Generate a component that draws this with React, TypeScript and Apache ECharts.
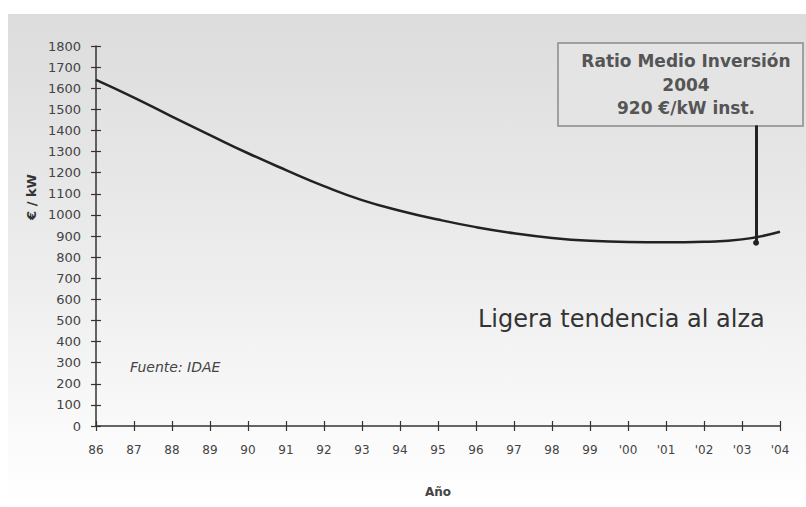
import React, { useEffect, useRef } from "react";
import * as echarts from "echarts";

// Years shown on the x axis and average investment ratio (€/kW) per year
const yearLabels = ["86", "87", "88", "89", "90", "91", "92", "93", "94", "95", "96", "97", "98", "99", "'00", "'01", "'02", "'03", "'04"];
const ratioValues = [1640, 1556, 1466, 1378, 1292, 1212, 1136, 1070, 1020, 978, 942, 913, 891, 877, 871, 870, 873, 884, 920];

// Callout: 2004 average ratio
const calloutLines = ["Ratio Medio Inversión", "2004", "920 €/kW inst."];
const calloutYearIndex = 17.37;
const calloutBase = 868;
const calloutTop = 1424;

const yTicks = { min: 0, max: 1800, interval: 100 };

export default function App() {
  const ref = useRef<HTMLDivElement>(null);

  useEffect(() => {
    if (!ref.current) return;
    const chart = echarts.init(ref.current, undefined, { renderer: "svg" });
    const tickFont = "'DejaVu Sans', sans-serif";
    const points = ratioValues.map((v, i) => [i, v]);

    const baseX = {
      type: "value" as const,
      min: 0,
      max: yearLabels.length - 1,
      interval: 1,
      splitLine: { show: false },
    };
    const baseY = {
      type: "value" as const,
      min: yTicks.min,
      max: yTicks.max,
      interval: yTicks.interval,
      splitLine: { show: false },
    };

    chart.setOption({
      animation: false,
      grid: { left: 96, right: 26, top: 46, bottom: 81 },
      xAxis: [
        {
          ...baseX,
          axisLine: { show: true, lineStyle: { color: "#333", width: 1.5 } },
          axisTick: { show: true, inside: false, length: 5, lineStyle: { color: "#333", width: 1.2 } },
          axisLabel: {
            margin: 18,
            color: "#444",
            fontSize: 12,
            fontFamily: tickFont,
            formatter: (v: number) => yearLabels[Math.round(v)] ?? "",
          },
          name: "Año",
          nameLocation: "middle",
          nameGap: 60,
          nameTextStyle: { color: "#444", fontSize: 12, fontWeight: "bold", fontFamily: "'DejaVu Sans', sans-serif" },
        },
        {
          ...baseX,
          position: "bottom",
          axisLine: { show: false },
          axisTick: { show: true, inside: true, length: 5, lineStyle: { color: "#333", width: 1.2 } },
          axisLabel: { show: false },
        },
      ],
      yAxis: [
        {
          ...baseY,
          axisLine: { show: true, lineStyle: { color: "#333", width: 1.5 } },
          axisTick: { show: true, inside: false, length: 5, lineStyle: { color: "#333", width: 1.2 } },
          axisLabel: {
            margin: 15,
            color: "#444",
            fontSize: 13,
            fontFamily: tickFont,
            formatter: (v: number) => String(v),
          },
        },
        {
          ...baseY,
          position: "left",
          axisLine: { show: false },
          axisTick: { show: true, inside: true, length: 5, lineStyle: { color: "#333", width: 1.2 } },
          axisLabel: { show: false },
        },
      ],
      graphic: [
        {
          type: "rect",
          z: -10,
          silent: true,
          shape: { x: 8, y: 14, width: 798, height: 493 },
          style: {
            fill: new echarts.graphic.LinearGradient(0, 0, 0, 1, [
              { offset: 0, color: "#dcdcdc" },
              { offset: 0.55, color: "#eeeeee" },
              { offset: 0.9, color: "#fcfcfc" },
              { offset: 1, color: "#ffffff" },
            ]),
          },
        },
        {
          type: "text",
          x: 31,
          y: 197,
          rotation: Math.PI / 2,
          style: {
            text: "€ / kW",
            fill: "#333",
            font: "bold 13px 'DejaVu Sans', sans-serif",
            align: "center",
            verticalAlign: "middle",
          },
        },
        {
          type: "rect",
          shape: { x: 558, y: 43, width: 245, height: 83 },
          style: { fill: "#e4e4e4", stroke: "#8a8a8a", lineWidth: 1.5 },
        },
        ...calloutLines.map((t, i) => ({
          type: "text",
          x: 686,
          y: 61 + i * 23.5,
          style: {
            text: t,
            fill: "#555",
            font: "bold 17px 'DejaVu Sans', sans-serif",
            align: "center",
            verticalAlign: "middle",
          },
        })),
        {
          type: "text",
          x: 478,
          y: 319,
          style: {
            text: "Ligera tendencia al alza",
            fill: "#333",
            font: "24px 'DejaVu Sans', sans-serif",
            align: "left",
            verticalAlign: "middle",
          },
        },
        {
          type: "text",
          x: 130,
          y: 367,
          style: {
            text: "Fuente: IDAE",
            fill: "#444",
            font: "italic 14px 'DejaVu Sans', sans-serif",
            align: "left",
            verticalAlign: "middle",
          },
        },
      ],
      series: [
        {
          type: "line",
          xAxisIndex: 0,
          yAxisIndex: 0,
          data: points,
          smooth: true,
          showSymbol: false,
          lineStyle: { color: "#222", width: 2.5 },
          markLine: {
            silent: true,
            symbol: ["circle", "none"],
            symbolSize: 6,
            label: { show: false },
            lineStyle: { color: "#222", width: 3, type: "solid" },
            data: [[{ coord: [calloutYearIndex, calloutBase] }, { coord: [calloutYearIndex, calloutTop] }]],
          },
        },
      ],
    });
    return () => chart.dispose();
  }, []);

  return (
    <div
      ref={ref}
      style={{ position: "absolute", left: 0, top: 0, width: 806, height: 507, background: "#fff" }}
    />
  );
}
